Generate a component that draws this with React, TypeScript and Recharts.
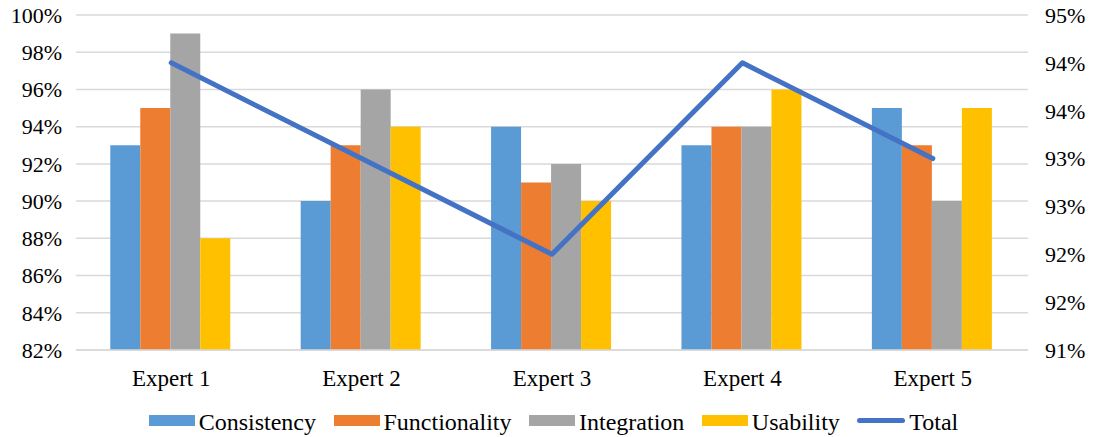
import { ComposedChart, Bar, Line, XAxis, YAxis, CartesianGrid } from 'recharts'

const experts = ['Expert 1', 'Expert 2', 'Expert 3', 'Expert 4', 'Expert 5']

const consistency = [93, 90, 94, 93, 95]
const functionality = [95, 93, 91, 94, 93]
const integration = [99, 96, 92, 94, 90]
const usability = [88, 94, 90, 96, 95]
const total = [94, 93, 92, 94, 93]

const leftTicks = [82, 84, 86, 88, 90, 92, 94, 96, 98, 100]
const rightTicks = [91, 91.5, 92, 92.5, 93, 93.5, 94, 94.5]

const FONT = '"Liberation Serif", Tinos, "DejaVu Serif"'

const bars = [
  { key: 'consistency', name: 'Consistency', color: '#5B9BD5' },
  { key: 'functionality', name: 'Functionality', color: '#ED7D31' },
  { key: 'integration', name: 'Integration', color: '#A5A5A5' },
  { key: 'usability', name: 'Usability', color: '#FFC000' },
]
const lineColor = '#4472C4'

const data = experts.map((name, i) => ({
  name,
  consistency: consistency[i],
  functionality: functionality[i],
  integration: integration[i],
  usability: usability[i],
  total: total[i],
}))

const tickFont = (size: number) => ({ fill: '#000', fontSize: size, fontFamily: FONT })

// serif face for every label, chart ticks included
const globalCss = `
  body { margin: 0; }
  #root, #root div, #root span, #root svg, #root text, #root tspan {
    font-family: ${FONT} !important;
  }
`

function ChartLegend() {
  return (
    <div
      style={{
        position: 'absolute',
        left: 76,
        top: 410,
        width: 952,
        paddingLeft: 3,
        boxSizing: 'border-box',
        display: 'flex',
        justifyContent: 'center',
        alignItems: 'center',
        gap: 17.5,
        fontFamily: FONT,
        fontSize: 24,
        lineHeight: '24px',
        color: '#000',
      }}
    >
      {bars.map((b) => (
        <div key={b.key} style={{ display: 'flex', alignItems: 'center', gap: 4 }}>
          <span
            style={{
              display: 'inline-block',
              width: 46,
              height: 11,
              background: b.color,
              position: 'relative',
              top: -1.5,
            }}
          />
          <span>{b.name}</span>
        </div>
      ))}
      <div style={{ display: 'flex', alignItems: 'center', gap: 4 }}>
        <span
          style={{
            display: 'inline-block',
            width: 48,
            height: 5,
            borderRadius: 3,
            background: lineColor,
            position: 'relative',
            top: -1.5,
          }}
        />
        <span>Total</span>
      </div>
    </div>
  )
}

export default function App() {
  return (
    <div style={{ position: 'absolute', left: 0, top: 0, width: 1094, height: 437, background: '#fff', fontFamily: FONT }}>
      <style>{globalCss}</style>
      <ComposedChart
        width={1094}
        height={437}
        data={data}
        margin={{ top: 15, right: 0, bottom: 0, left: 0 }}
        barCategoryGap="18%"
        barGap={0}
      >
        <CartesianGrid yAxisId="left" vertical={false} stroke="#d9d9d9" strokeWidth={1.5} />
        <XAxis
          dataKey="name"
          height={87}
          tickLine={false}
          tickMargin={14}
          axisLine={{ stroke: '#d9d9d9', strokeWidth: 1.5 }}
          tick={tickFont(23)}
        />
        <YAxis
          yAxisId="left"
          width={76}
          domain={[82, 100]}
          ticks={leftTicks}
          interval={0}
          tickLine={false}
          axisLine={false}
          tickMargin={8}
          tickFormatter={(v: number) => `${v}%`}
          tick={tickFont(22)}
        />
        <YAxis
          yAxisId="right"
          orientation="right"
          width={66}
          domain={[91, 94.5]}
          ticks={rightTicks}
          interval={0}
          tickLine={false}
          axisLine={false}
          tickMargin={11}
          tickFormatter={(v: number) => `${Math.round(v)}%`}
          tick={tickFont(22)}
        />
        {bars.map((b) => (
          <Bar
            key={b.key}
            yAxisId="left"
            dataKey={b.key}
            name={b.name}
            fill={b.color}
            isAnimationActive={false}
          />
        ))}
        <Line
          yAxisId="right"
          type="linear"
          dataKey="total"
          name="Total"
          stroke={lineColor}
          strokeWidth={5}
          strokeLinecap="round"
          strokeLinejoin="round"
          dot={false}
          activeDot={false}
          isAnimationActive={false}
        />
      </ComposedChart>
      <ChartLegend />
    </div>
  )
}
